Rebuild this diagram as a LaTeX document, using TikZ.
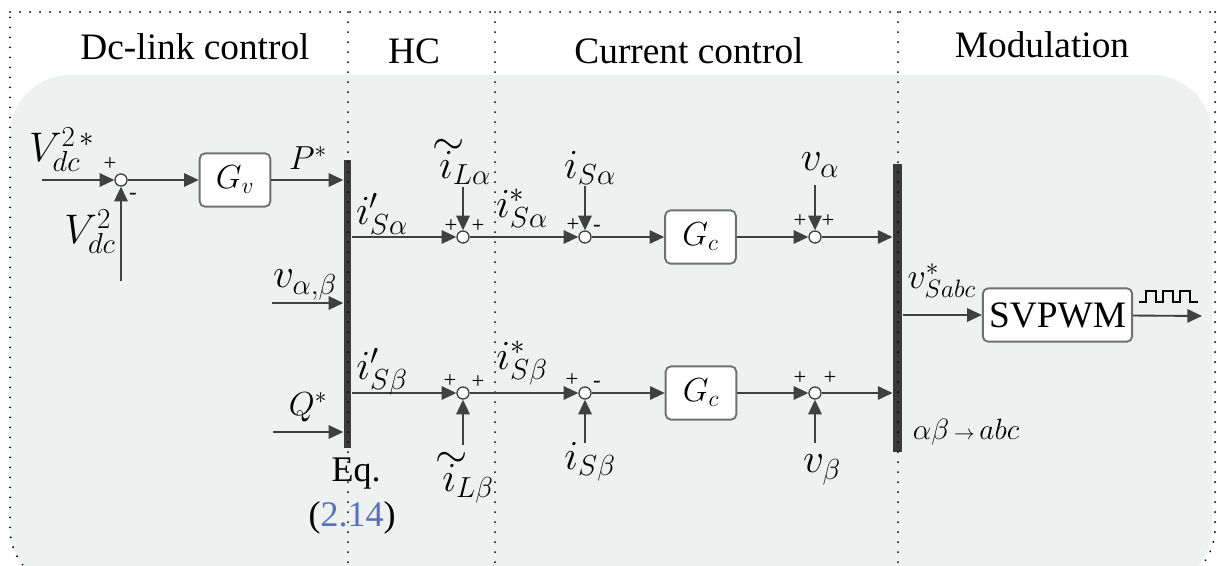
\RequirePackage{fix-cm}
\documentclass[tikz,border=0pt]{standalone}
\usepackage{fontspec}
\setmainfont{Liberation Serif}
\usetikzlibrary{arrows.meta}

\definecolor{lnclr}{RGB}{64,64,64}
\definecolor{bxclr}{RGB}{112,112,112}
\definecolor{barclr}{RGB}{58,58,58}
\definecolor{bgclr}{RGB}{237,241,240}
\definecolor{refclr}{RGB}{88,112,190}

\tikzset{every picture/.style={line width=0.75pt}}
\tikzset{
  sig/.style={draw=lnclr, line width=1.4pt, -{Triangle[length=11pt,width=10pt]}},
  sumj/.style={circle, draw=lnclr, fill=white, line width=1pt, minimum size=9pt, inner sep=0pt},
  blk/.style={draw=bxclr, fill=white, rounded corners=4pt, line width=1.4pt, minimum width=53pt, minimum height=40pt, inner sep=0pt, font=\fontsize{25}{28}\selectfont},
  bar/.style={fill=barclr, inner sep=0pt, minimum width=5.5pt, minimum height=216pt},
  divline/.style={draw=black, line width=1.5pt, line cap=round, dash pattern={on 0.1pt off 7.4pt}},
  ttl/.style={anchor=base, inner sep=0pt, font=\fontsize{28}{30}\selectfont},
  lbl/.style={inner sep=0pt, font=\fontsize{31}{33}\selectfont},
  lblb/.style={inner sep=0pt, font=\fontsize{25}{27}\selectfont},
  lbls/.style={inner sep=0pt, font=\fontsize{22}{24}\selectfont},
  txt/.style={inner sep=0pt, font=\fontsize{27}{29}\selectfont},
  sgn/.style={inner sep=0pt, font=\fontsize{17}{17}\selectfont},
  pulse/.style={draw=black, line width=1.2pt}
}
% i with a wide tilde
\newcommand{\tli}{\mathord{\makebox[0pt][l]{\hspace{-0.17em}\raisebox{0.58em}{$\sim$}}i}}

\begin{document}
\begin{tikzpicture}[x=0.75pt,y=0.75pt,yscale=-1,xscale=1]
\useasboundingbox (0,0) rectangle (1217,565);
\clip (0,0) rectangle (1217,565);

%Shape: Rounded Rect [background]
\fill [bgclr, rounded corners=45pt] (10,75) rectangle (1212,588);
%Dotted frame
\draw [divline] (10,12) -- (1215,12);
\draw [divline, rounded corners=45pt] (1215,12) -- (1215,588) -- (10,588) -- (10,12);

%Bars
\node [bar] (eq) at (347.5,304) {};
\node [bar, minimum width=6.75pt] (tr) at (897.5,308) {};

%Dotted dividers
\draw [divline] (348,12) -- (348,588);
\draw [divline] (495,12) -- (495,588);
\draw [divline] (898,12) -- (898,588);

%Blocks
\node [blk] (gv) at (235,180) {$G_v$};
\node [blk] (gca) at (700.5,237) {$G_c$};
\node [blk] (gcb) at (701,393) {$G_c$};
\node [blk, minimum width=112pt, font=\fontsize{28}{30}\selectfont] (svpwm) at (1057.5,315) {SVPWM};

%Summing junctions
\node [sumj] (s1) at (121,180) {};
\node [sumj] (ha) at (463,237) {};
\node [sumj] (ca) at (585,237) {};
\node [sumj] (va) at (815,237) {};
\node [sumj] (hb) at (463,393) {};
\node [sumj] (cb) at (585,393) {};
\node [sumj] (vb) at (815,393) {};

%Free ends
\coordinate (vref) at (42,180);
\coordinate (vmeas) at (121,281);
\coordinate (vab) at (272,303);
\coordinate (qref) at (273,432);
\coordinate (ila) at (463,187);
\coordinate (isa) at (585,186);
\coordinate (vsa) at (815,185);
\coordinate (ilb) at (463,445);
\coordinate (isb) at (585,443);
\coordinate (vsb) at (815,443);
\coordinate (pwm) at (1202,316);

%Straight Lines
\draw [sig] (vref) -- (s1);
\draw [sig] (vmeas) -- (s1);
\draw [sig] (s1) -- (gv);
\draw [sig] (gv) -- (gv -| eq.west);
\draw [sig] (vab) -- (vab -| eq.west);
\draw [sig] (qref) -- (qref -| eq.west);
%Straight Lines [alpha]
\draw [sig] (eq.east |- ha) -- (ha);
\draw [sig] (ila) -- (ha);
\draw [sig] (ha) -- (ca);
\draw [sig] (isa) -- (ca);
\draw [sig] (ca) -- (gca);
\draw [sig] (gca) -- (va);
\draw [sig] (vsa) -- (va);
\draw [sig] (va) -- (va -| tr.west);
%Straight Lines [beta]
\draw [sig] (eq.east |- hb) -- (hb);
\draw [sig] (ilb) -- (hb);
\draw [sig] (hb) -- (cb);
\draw [sig] (isb) -- (cb);
\draw [sig] (cb) -- (gcb);
\draw [sig] (gcb) -- (vb);
\draw [sig] (vsb) -- (vb);
\draw [sig] (vb) -- (vb -| tr.west);
%Straight Lines [modulation]
\draw [sig] (tr.east |- svpwm) -- (svpwm);
\draw [sig] (svpwm) -- (pwm);
%Pulse train
\draw [pulse] (1139,302) foreach \k in {0,1,2} { -- ({1146+17*\k},302) -- ++(0,-11) -- ++(10,0) -- ++(0,11) } -- (1198,302);

% Text Node
\node [ttl] (tdc) at (195,59) {Dc-link control};
\node [ttl] (thc) at (414,63) {HC};
\node [ttl] (tcc) at (689,63) {Current control};
\node [ttl] (tmod) at (1042,57) {Modulation};
% Text Node
\node [lbl] (lvref) at (62,150) {$V_{dc}^{2\,*}$};
\node [lbl] (lvmeas) at (90,232) {$V_{dc}^{2}$};
\node [lblb] (lp) at (308,158) {$P^{*}$};
\node [lbl] (lvab) at (305,285) {$v_{\alpha,\beta}$};
\node [lblb] (lq) at (308,407) {$Q^{*}$};
\node [lbl] (lisa1) at (382,214) {$i'_{S\alpha}$};
\node [lbl] (lisb1) at (382,372) {$i'_{S\beta}$};
\node [lbl] (lila) at (465,162) {$\tli_{L\alpha}$};
\node [lbl] (lilb) at (468,478) {$\tli_{L\beta}$};
\node [lbl] (lisa2) at (522,208) {$i^{*}_{S\alpha}$};
\node [lbl] (lisb2) at (522,363) {$i^{*}_{S\beta}$};
\node [lbl] (lisa) at (590,168) {$i_{S\alpha}$};
\node [lbl] (lisb) at (590,462) {$i_{S\beta}$};
\node [lbl] (lva) at (820,165) {$v_{\alpha}$};
\node [lbl] (lvb) at (822,470) {$v_{\beta}$};
\node [lbl, anchor=west, font=\fontsize{27}{29}\selectfont] (lvs) at (907,281) {$v^{*}_{Sabc}$};
\node [lbls] (ltr) at (966,432) {$\alpha\beta\,{\scriptstyle\rightarrow}\,abc$};
\node [txt] (leq) at (356,474) {Eq.};
\node [txt] (lref) at (352,518) {(\textcolor{refclr}{2.14})};
% Signs
\node [sgn] (p1) at (110,164) {+};
\node [sgn] (m1) at (133,196) {-};
\node [sgn] (pha1) at (451,226) {+};
\node [sgn] (pha2) at (478,226) {+};
\node [sgn] (pca) at (573,225) {+};
\node [sgn] (mca) at (597,228) {-};
\node [sgn] (pva1) at (800,221) {+};
\node [sgn] (pva2) at (828,221) {+};
\node [sgn] (phb1) at (450,381) {+};
\node [sgn] (phb2) at (478,382) {+};
\node [sgn] (pcb) at (572,380) {+};
\node [sgn] (mcb) at (597,384) {-};
\node [sgn] (pvb1) at (800,378) {+};
\node [sgn] (pvb2) at (830,378) {+};

\end{tikzpicture}
\end{document}
